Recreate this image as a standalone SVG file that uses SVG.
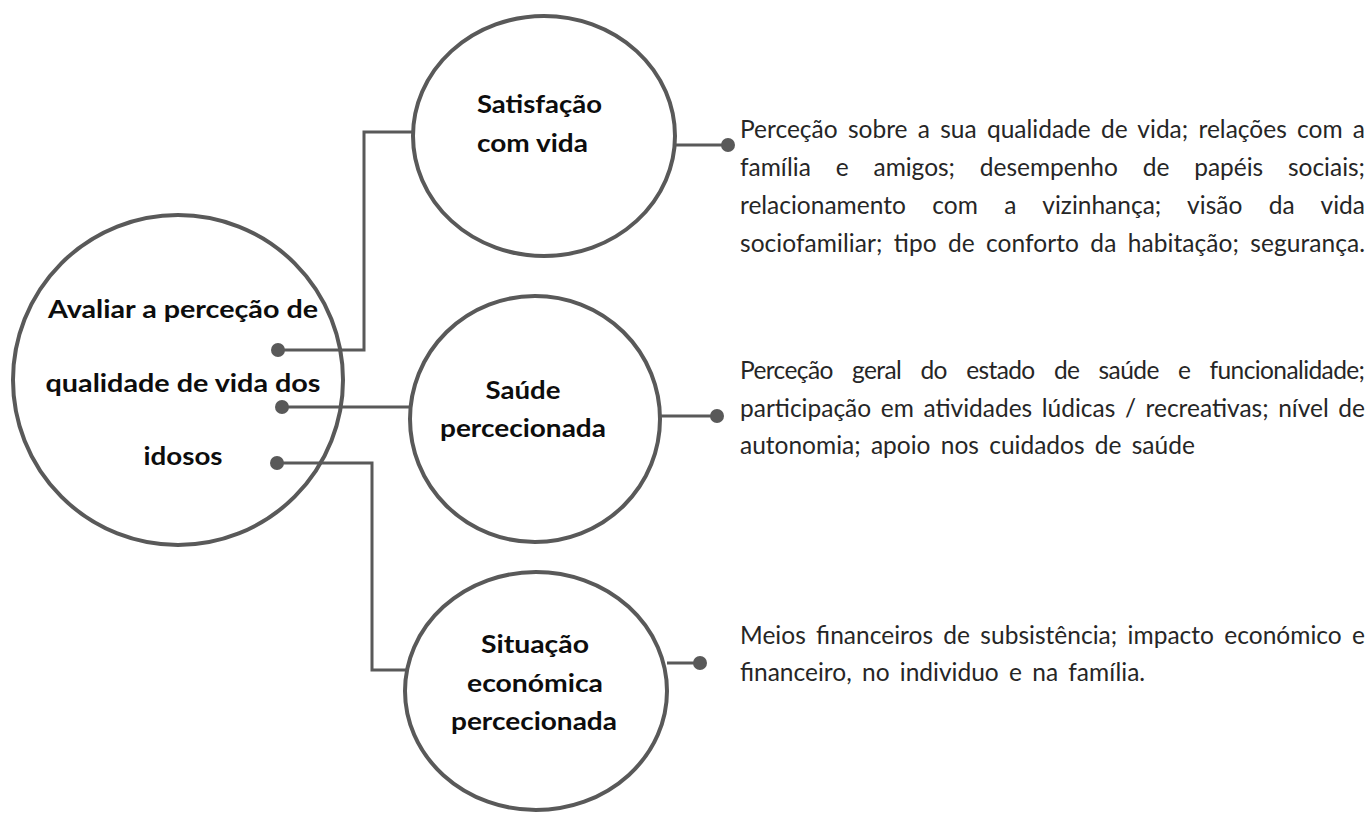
<svg xmlns="http://www.w3.org/2000/svg" width="1372" height="814" viewBox="0 0 1372 814">
<style>
.node{fill:#fff;stroke:#595959;stroke-width:4}
.conn{fill:none;stroke:#595959;stroke-width:3}
.dot{fill:#595959}
.bold{font-family:Lato,"Liberation Sans",sans-serif;font-weight:700;fill:#0d0d0d}
.main{font-size:25px}
.sub{font-size:24px}
.body{font-family:Lato,"Liberation Sans",sans-serif;font-size:24.5px;fill:#262626}
</style>
<rect width="1372" height="814" fill="#fff"/>
<g id="node-main">
<circle class="node" cx="178" cy="380" r="165"/>
<text class="bold main" text-anchor="middle"><tspan x="183" y="318" textLength="270" lengthAdjust="spacingAndGlyphs">Avaliar a perceção de</tspan><tspan x="183" y="392" textLength="275" lengthAdjust="spacingAndGlyphs">qualidade de vida dos</tspan><tspan x="183" y="465" textLength="79" lengthAdjust="spacingAndGlyphs">idosos</tspan></text>
</g>
<g id="node-satisfacao">
<ellipse class="node" cx="544" cy="136" rx="131" ry="120"/>
<text class="bold sub"><tspan x="477" y="113" textLength="125" lengthAdjust="spacingAndGlyphs">Satisfação</tspan><tspan x="477" y="152" textLength="111" lengthAdjust="spacingAndGlyphs">com vida</tspan></text>
</g>
<g id="node-saude">
<ellipse class="node" cx="535" cy="419" rx="125" ry="123"/>
<text class="bold sub" text-anchor="middle"><tspan x="523" y="399" textLength="75" lengthAdjust="spacingAndGlyphs">Saúde</tspan><tspan x="523" y="437" textLength="166" lengthAdjust="spacingAndGlyphs">percecionada</tspan></text>
</g>
<g id="node-situacao">
<ellipse class="node" cx="536" cy="691" rx="131" ry="119"/>
<text class="bold sub" text-anchor="middle"><tspan x="535" y="653" textLength="108" lengthAdjust="spacingAndGlyphs">Situação</tspan><tspan x="535" y="692" textLength="136" lengthAdjust="spacingAndGlyphs">económica</tspan><tspan x="534" y="730" textLength="166" lengthAdjust="spacingAndGlyphs">percecionada</tspan></text>
</g>
<g id="connectors">
<path class="conn" d="M278,350 H364 V132 H413"/>
<path class="conn" d="M282,407 H410"/>
<path class="conn" d="M277,463 H372 V670 H407"/>
<path class="conn" d="M675,145 H728"/>
<path class="conn" d="M660,416 H717"/>
<path class="conn" d="M667,663 H700"/>
<circle class="dot" cx="278" cy="350" r="7"/>
<circle class="dot" cx="282" cy="407" r="7"/>
<circle class="dot" cx="277" cy="463" r="7"/>
<circle class="dot" cx="728" cy="145" r="7"/>
<circle class="dot" cx="717" cy="416" r="7"/>
<circle class="dot" cx="700" cy="663" r="7"/>
</g>
<g id="text-satisfacao">
<text class="body"><tspan x="740" y="138" word-spacing="4" textLength="625" lengthAdjust="spacing">Perceção sobre a sua qualidade de vida; relações com a</tspan><tspan x="740" y="176" word-spacing="18.6" textLength="625" lengthAdjust="spacing">família e amigos; desempenho de papéis sociais;</tspan><tspan x="740" y="214" word-spacing="20.2" textLength="625" lengthAdjust="spacing">relacionamento com a vizinhança; visão da vida</tspan><tspan x="740" y="252" word-spacing="5" textLength="625" lengthAdjust="spacing">sociofamiliar; tipo de conforto da habitação; segurança.</tspan></text>
</g>
<g id="text-saude">
<text class="body"><tspan x="740" y="379" word-spacing="13.6" textLength="625" lengthAdjust="spacing">Perceção geral do estado de saúde e funcionalidade;</tspan><tspan x="740" y="417" word-spacing="3.3" textLength="625" lengthAdjust="spacing">participação em atividades lúdicas / recreativas; nível de</tspan><tspan x="740" y="454" word-spacing="4">autonomia; apoio nos cuidados de saúde</tspan></text>
</g>
<g id="text-situacao">
<text class="body"><tspan x="740" y="644" word-spacing="4" textLength="625" lengthAdjust="spacing">Meios financeiros de subsistência; impacto económico e</tspan><tspan x="740" y="681" word-spacing="4">financeiro, no individuo e na família.</tspan></text>
</g>
</svg>
